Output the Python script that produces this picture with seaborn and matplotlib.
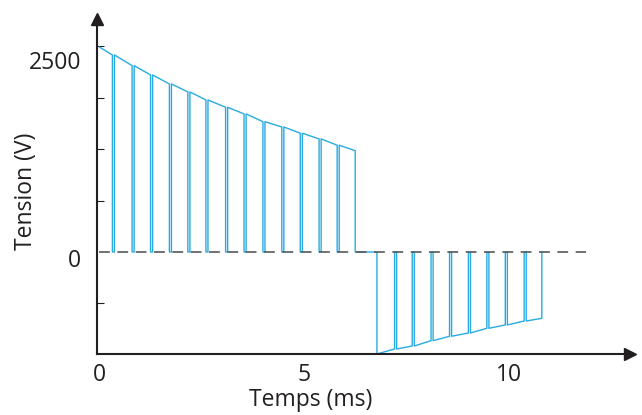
import matplotlib
matplotlib.use("Agg")
import matplotlib.pyplot as plt
import matplotlib.transforms as mtransforms
import seaborn as sns

# valeurs (temps en ms, tension en V)
t_debut = 0.0
v_debut = 2593
t_coupures_pos = [0.32, 0.80, 1.25, 1.71, 2.16, 2.60, 3.08, 3.53, 3.99, 4.45, 4.90, 5.36, 5.80]
v_coupures_pos = [2492, 2357, 2239, 2125, 2024, 1923, 1830, 1746, 1648, 1581, 1502, 1430, 1350]
t_fin_pos = 6.24
v_fin_pos = 1281

t_debut_neg = 6.77
v_debut_neg = -1290
t_coupures_neg = [7.20, 7.63, 8.09, 8.54, 9.00, 9.45, 9.90, 10.36]
v_coupures_neg = [-1227, -1189, -1122, -1066, -1025, -965, -923, -873]
t_fin_neg = 10.79
v_fin_neg = -839

t_ref = [0.0, 11.87]
v_ref = [0, 0]

largeur_coupure = 0.05

# 1. CONSTRUCTION DU SIGNAL
t = [t_debut]
v = [v_debut]
for ti, vi in zip(t_coupures_pos, v_coupures_pos):
    t += [ti, ti, ti + largeur_coupure, ti + largeur_coupure]
    v += [vi, 0, 0, vi]
t += [t_fin_pos, t_fin_pos, t_debut_neg, t_debut_neg]
v += [v_fin_pos, 0, 0, v_debut_neg]
for ti, vi in zip(t_coupures_neg, v_coupures_neg):
    t += [ti, ti, ti + largeur_coupure, ti + largeur_coupure]
    v += [vi, 0, 0, vi]
t += [t_fin_neg, t_fin_neg]
v += [v_fin_neg, 0]

# 2. STYLE
sns.set_theme(style="white")
plt.rcParams['font.family'] = ['Open Sans', 'DejaVu Sans']
noir = "#231F20"
bleu = "#29ABE2"

fig = plt.figure(figsize=(6.42, 4.15), dpi=100)
ax = fig.add_axes([0.1506, 0.1463, 0.8307, 0.8080])

sns.lineplot(x=t, y=v, sort=False, estimator=None, color=bleu, linewidth=1.0, ax=ax)
sns.lineplot(x=t_ref, y=v_ref, sort=False, estimator=None, color="#58595B",
             linewidth=1.2, dashes=False, ax=ax, zorder=3)
ax.lines[-1].set_dashes((6.5, 4.5))

ax.set_xlim(-0.063, 12.94)
ax.set_ylim(-1294, 2947)

for side in ["top", "right"]:
    ax.spines[side].set_visible(False)
for side in ["left", "bottom"]:
    ax.spines[side].set_color(noir)
    ax.spines[side].set_linewidth(1.5)

# flèches des axes
ax.plot(1, 0, marker=">", ms=9, color=noir, transform=ax.transAxes, clip_on=False)
ax.plot(0, 1, marker="^", ms=9, color=noir, transform=ax.transAxes, clip_on=False)

ax.set_xticks([0, 5, 10])
ax.set_xticklabels(["0", "5", "10"])
ax.set_yticks([0, 2500])
ax.set_yticklabels(["0", "2500"])
ax.set_yticks([-650, 0, 650, 1300, 1950, 2600], minor=True)

ax.tick_params(axis="x", which="major", direction="in", length=5, width=0.8,
               color=noir, labelsize=16.5, labelcolor=noir, pad=6)
ax.tick_params(axis="y", which="major", length=0, labelsize=16.5, labelcolor=noir, pad=11)
ax.tick_params(axis="y", which="minor", direction="in", length=5, width=0.8,
               color=noir, left=True)

decalage = mtransforms.ScaledTranslation(0, -6 / 100, fig.dpi_scale_trans)
for lab in ax.get_yticklabels():
    lab.set_transform(lab.get_transform() + decalage)

ax.set_xlabel("Temps (ms)", fontsize=16.5, color=noir)
ax.set_ylabel("Tension (V)", fontsize=16.5, color=noir)
ax.xaxis.set_label_coords(0.401, -0.136)
ax.xaxis.label.set_va("center")
ax.yaxis.set_label_coords(-0.132, 0.487)
ax.yaxis.label.set_va("center")

fig.savefig("out.png", dpi=100)
